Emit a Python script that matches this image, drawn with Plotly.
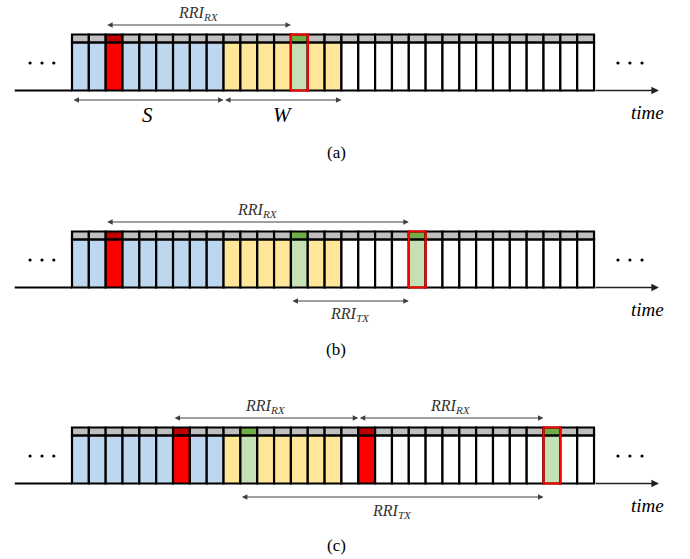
import plotly.graph_objects as go

# ---------------- data ----------------
panel_labels = ["(a)", "(b)", "(c)"]
region_names = ["sensing", "window", "future"]
region_sizes = [9, 7, 15]                 # slots per region (same in every panel)
region_colors = ["#BDD7EE", "#FFE699", "#FFFFFF"]

red_slots = [[2], [2], [6, 17]]           # slots reserved by other UE (red)
green_slots = [[], [13], [10]]            # selected slot (green)
target_slots = [[13], [20], [28]]         # green slot outlined in red

# arrows: (start slot, end slot, label)
top_arrows = [
    [(2, 13, "RX")],
    [(2, 20, "RX")],
    [(6, 17, "RX"), (17, 28, "RX")],
]
bottom_arrows = [
    [(0, 9, "S"), (9, 16, "W")],
    [(13, 20, "TX")],
    [(10, 28, "TX")],
]

# ---------------- layout constants ----------------
W_PX, H_PX = 690, 559
X0_PX, SLOT_PX = 72.0, 16.84
panel_off = [0, 197, 393]
strip_top, strip_bot, body_bot = 34.5, 42.3, 90.5
top_arrow_y, top_label_y = 25, 13
bot_arrow_y = [100, 104, 104]
bot_label_y = [115, 117, 118]

n_slots = sum(region_sizes)
base = []
for c, n in zip(region_colors, region_sizes):
    base += [c] * n

shapes = []
annotations = []
dot_x, dot_y = [], []

times = "Liberation Serif"

for p in range(3):
    off = panel_off[p]
    # cells
    for i in range(n_slots):
        fill = base[i]
        sfill = "#BFBFBF"
        if i in red_slots[p]:
            fill, sfill = "#FF0000", "#C00000"
        elif i in green_slots[p] or i in target_slots[p]:
            fill, sfill = "#C5E0B4", "#70AD47"
        shapes.append(dict(type="rect", xref="x", yref="y", x0=i, x1=i + 1,
                           y0=off + strip_bot, y1=off + body_bot,
                           fillcolor=fill, line=dict(color="black", width=2.2)))
        shapes.append(dict(type="rect", xref="x", yref="y", x0=i, x1=i + 1,
                           y0=off + strip_top, y1=off + strip_bot,
                           fillcolor=sfill, line=dict(color="black", width=2.2)))
    # red outlines
    for t in target_slots[p]:
        shapes.append(dict(type="rect", xref="x", yref="y", x0=t, x1=t + 1,
                           y0=off + strip_top, y1=off + body_bot,
                           fillcolor="rgba(0,0,0,0)", line=dict(color="#FF0000", width=2.2)))
    # timeline
    shapes.append(dict(type="line", xref="x", yref="y", x0=-3.4, x1=0,
                       y0=off + body_bot, y1=off + body_bot,
                       line=dict(color="black", width=2)))
    annotations.append(go.layout.Annotation(x=34.85, y=off + body_bot, ax=n_slots, ay=off + body_bot,
                            xref="x", yref="y", axref="x", ayref="y", text="",
                            showarrow=True, arrowhead=2, arrowsize=1, arrowwidth=1.5,
                            arrowcolor="#222222", standoff=0))
    annotations.append(go.layout.Annotation(x=34.2, y=off + 112, xref="x", yref="y", text="<i>time</i>",
                            showarrow=False,
                            font=go.layout.annotation.Font(family=times, size=19, color="black")))
    annotations.append(go.layout.Annotation(x=15.7, y=off + 152, xref="x", yref="y", text=panel_labels[p],
                            showarrow=False,
                            font=go.layout.annotation.Font(family=times, size=17, color="black")))
    # dots
    for dx in [-2.49, -1.78, -1.08, 32.42, 33.13, 33.85]:
        dot_x.append(dx)
        dot_y.append(off + 63)

    for a, b, lab in top_arrows[p] + bottom_arrows[p]:
        is_top = (a, b, lab) in top_arrows[p]
        y = off + (top_arrow_y if is_top else bot_arrow_y[p])
        ly = off + (top_label_y if is_top else bot_label_y[p])
        annotations.append(go.layout.Annotation(
            x=b, y=y, ax=a, ay=y, xref="x", yref="y", axref="x", ayref="y", text="",
            showarrow=True, arrowhead=2, startarrowhead=2, arrowside="end+start",
            arrowsize=1, startarrowsize=1, arrowwidth=1.1,
            arrowcolor="#404040", standoff=0, startstandoff=0))
        if lab in ("S", "W"):
            txt = "<i>%s</i>" % lab
            fs, col = 21, "black"
        else:
            txt = "<i>RRI</i><sub><i>%s</i></sub>" % lab
            fs, col = 16, "#333333"
        annotations.append(go.layout.Annotation(
            x=(a + b) / 2, y=ly, xref="x", yref="y", text=txt, showarrow=False,
            font=go.layout.annotation.Font(family=times, size=fs, color=col)))

fig = go.Figure()
fig.add_trace(go.Scatter(x=dot_x, y=dot_y, mode="markers",
                         marker=dict(size=3.2, color="black"), hoverinfo="skip",
                         showlegend=False))

fig.update_layout(
    template="none",
    width=W_PX, height=H_PX,
    margin=dict(l=0, r=0, t=0, b=0),
    paper_bgcolor="white", plot_bgcolor="white",
    font=dict(family=times, size=16, color="black"),
    shapes=shapes, annotations=annotations,
    xaxis=dict(range=[-X0_PX / SLOT_PX, (W_PX - X0_PX) / SLOT_PX], visible=False,
               fixedrange=True),
    yaxis=dict(range=[H_PX, 0], visible=False, fixedrange=True),
    showlegend=False,
)
fig.write_html("out.html", config={"displayModeBar": False},
               post_script="document.body.style.margin='0px';document.body.style.overflow='hidden';")
